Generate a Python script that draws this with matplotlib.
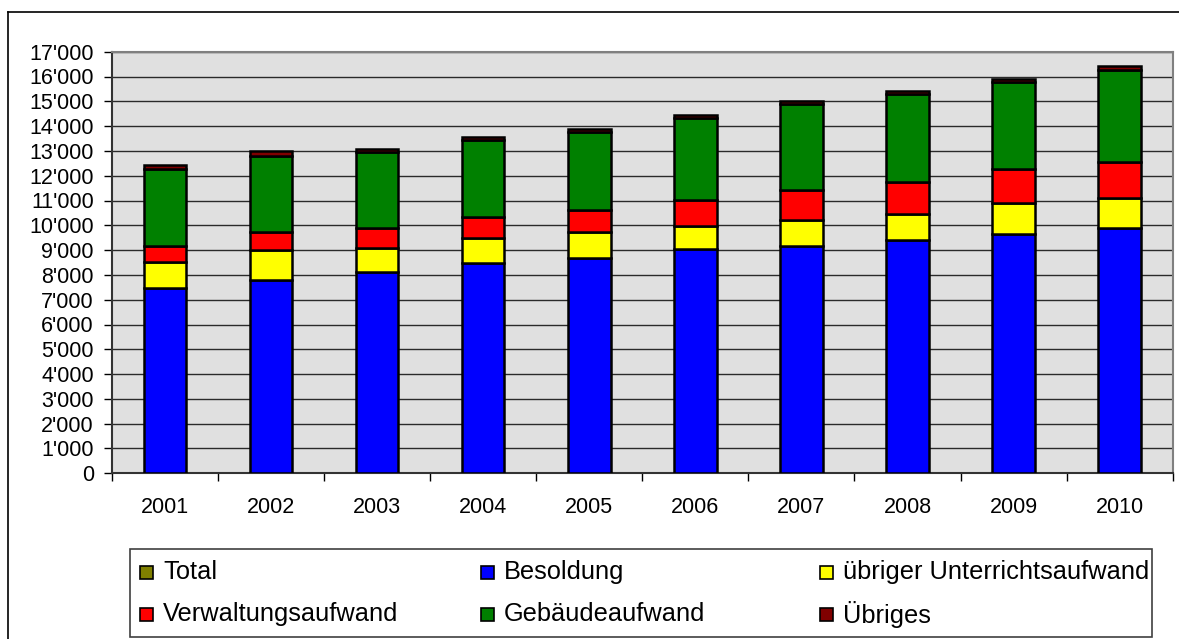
import matplotlib
matplotlib.use("Agg")
import matplotlib.pyplot as plt
from matplotlib.patches import Rectangle
from matplotlib.lines import Line2D
from matplotlib.ticker import FuncFormatter, MultipleLocator
import numpy as np

plt.rcParams['font.family'] = ['Liberation Sans', 'DejaVu Sans']

years = ['2001', '2002', '2003', '2004', '2005', '2006', '2007', '2008', '2009', '2010']
besoldung = [7480, 7800, 8125, 8460, 8700, 9025, 9170, 9410, 9655, 9895]
uebriger_unterricht = [1035, 1210, 965, 1035, 1020, 950, 1045, 1050, 1225, 1210]
verwaltung = [645, 725, 805, 820, 900, 1065, 1225, 1305, 1380, 1450]
gebaeude = [3130, 3060, 3050, 3115, 3145, 3290, 3465, 3530, 3520, 3725]
uebriges = [130, 190, 120, 120, 110, 110, 105, 110, 110, 160]

series_names = ['Besoldung', 'übriger Unterrichtsaufwand', 'Verwaltungsaufwand',
                'Gebäudeaufwand', 'Übriges']
series_values = [besoldung, uebriger_unterricht, verwaltung, gebaeude, uebriges]
series_colors = ['#0000FF', '#FFFF00', '#FF0000', '#008000', '#800000']

legend_labels = ['Total', 'Besoldung', 'übriger Unterrichtsaufwand',
                 'Verwaltungsaufwand', 'Gebäudeaufwand', 'Übriges']
legend_colors = ['#808000', '#0000FF', '#FFFF00', '#FF0000', '#008000', '#800000']

W, H = 1179, 639
fig = plt.figure(figsize=(W / 100, H / 100), dpi=100)
fig.patch.set_facecolor('white')

ax = fig.add_axes([112 / W, 1 - 473.3 / H, (1172.7 - 112) / W, (473.3 - 51.7) / H])
ax.set_facecolor('#E0E0E0')

x = np.arange(len(years))
bottom = np.zeros(len(years))
for name, vals, col in zip(series_names, series_values, series_colors):
    v = np.array(vals, dtype=float)
    ax.bar(x, v, width=0.40, bottom=bottom, color=col, edgecolor='black',
           linewidth=1.8, zorder=3, label=name)
    bottom += v

ax.set_xlim(-0.5, len(years) - 0.5)
ax.set_ylim(0, 17000)
ax.yaxis.set_major_locator(MultipleLocator(1000))
ax.yaxis.set_major_formatter(FuncFormatter(lambda v, p: f"{int(v):,}".replace(',', "'")))
ax.grid(axis='y', color='#2a2a2a', linewidth=1.0, zorder=1)
ax.set_axisbelow(True)

# x ticks between categories, labels centered
ax.set_xticks(np.arange(-0.5, len(years), 1.0))
ax.set_xticklabels([])
ax.set_xticks(x, minor=True)
ax.set_xticklabels(years, minor=True, fontsize=15.5)
ax.tick_params(axis='x', which='major', direction='out', length=6, width=1, color='black')
ax.tick_params(axis='x', which='minor', length=0, pad=17)
ax.tick_params(axis='y', direction='out', length=6, width=1, labelsize=15.5, pad=7)

for side in ['top', 'right']:
    ax.spines[side].set_color('#808080')
    ax.spines[side].set_linewidth(1.5)
for side in ['left', 'bottom']:
    ax.spines[side].set_color('#333333')
    ax.spines[side].set_linewidth(1.5)

# outer chart border (left and top visible)
fig.add_artist(Line2D([8 / W, 8 / W], [1 - 12 / H, -0.05], color='black', lw=1.2,
                      transform=fig.transFigure))
fig.add_artist(Line2D([8 / W, 1.05], [1 - 12 / H, 1 - 12 / H], color='black', lw=1.2,
                      transform=fig.transFigure))

# legend box
lx0, lx1, ly0, ly1 = 130, 1152, 549, 637
fig.add_artist(Rectangle((lx0 / W, 1 - ly1 / H), (lx1 - lx0) / W, (ly1 - ly0) / H,
                         transform=fig.transFigure, facecolor='white',
                         edgecolor='#404040', lw=1.2))
col_x = [140, 481, 820]
row_y = [572, 614]
psz = 13
for i, (lab, col) in enumerate(zip(legend_labels, legend_colors)):
    r, c = divmod(i, 3)
    px, py = col_x[c], row_y[r]
    fig.add_artist(Rectangle((px / W, 1 - (py + psz / 2) / H), psz / W, psz / H,
                             transform=fig.transFigure, facecolor=col,
                             edgecolor='black', lw=1.2))
    fig.text((px + psz + 10) / W, 1 - py / H, lab, fontsize=18.3, va='center', ha='left')

fig.savefig('out.png', dpi=100)
